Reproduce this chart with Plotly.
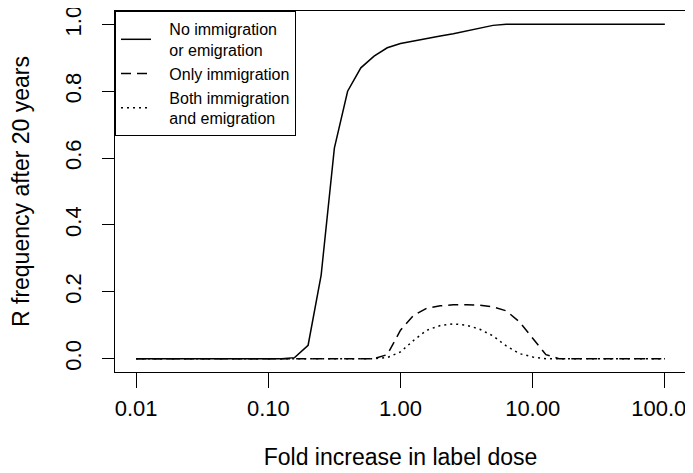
import plotly.graph_objects as go

# Fold increase in label dose (log grid)
doses = [0.01, 0.0126, 0.0158, 0.02, 0.0251, 0.0316, 0.0398, 0.0501, 0.0631, 0.0794,
         0.1, 0.126, 0.158, 0.2, 0.251, 0.316, 0.398, 0.501, 0.631, 0.794,
         1.0, 1.26, 1.58, 2.0, 2.51, 3.16, 3.98, 5.01, 6.31, 7.94,
         10.0, 12.6, 15.8, 20.0, 25.1, 31.6, 39.8, 50.1, 63.1, 79.4, 100.0]

# R frequency after 20 years
no_migration = [0, 0, 0, 0, 0, 0, 0, 0, 0, 0,
                0, 0, 0.003, 0.04, 0.25, 0.63, 0.80, 0.87, 0.905, 0.93,
                0.943, 0.951, 0.958, 0.965, 0.972, 0.98, 0.989, 0.997, 1.0, 1.0,
                1.0, 1.0, 1.0, 1.0, 1.0, 1.0, 1.0, 1.0, 1.0, 1.0, 1.0]
only_immigration = [0, 0, 0, 0, 0, 0, 0, 0, 0, 0,
                    0, 0, 0, 0, 0, 0, 0, 0, 0, 0.012,
                    0.085, 0.13, 0.151, 0.158, 0.161, 0.161, 0.16, 0.155, 0.143, 0.11,
                    0.06, 0.012, 0, 0, 0, 0, 0, 0, 0, 0, 0]
both_migration = [0, 0, 0, 0, 0, 0, 0, 0, 0, 0,
                  0, 0, 0, 0, 0, 0, 0, 0, 0, 0.003,
                  0.02, 0.055, 0.085, 0.099, 0.104, 0.1, 0.088, 0.068, 0.038, 0.015,
                  0.005, 0, 0, 0, 0, 0, 0, 0, 0, 0, 0]

x_ticks = [0.01, 0.1, 1, 10, 100]
x_ticktext = ["0.01", "0.10", "1.00", "10.00", "100.00"]
y_ticks = [0, 0.2, 0.4, 0.6, 0.8, 1.0]
y_ticktext = ["0.0", "0.2", "0.4", "0.6", "0.8", "1.0"]

FONT = "Liberation Sans, Arial, sans-serif"
PAD = "\u00a0\u00a0\u00a0"  # R legends leave a wider gap between sample and text

fig = go.Figure()
fig.add_trace(go.Scatter(x=doses, y=no_migration, mode="lines",
                         name=PAD + "No immigration<br>" + PAD + "or emigration",
                         line=dict(color="black", width=1.5)))
fig.add_trace(go.Scatter(x=doses, y=only_immigration, mode="lines",
                         name=PAD + "Only immigration",
                         line=dict(color="black", width=1.5, dash="10px,6px")))
fig.add_trace(go.Scatter(x=doses, y=both_migration, mode="lines",
                         name=PAD + "Both immigration<br>" + PAD + "and emigration",
                         line=dict(color="black", width=1.5, dash="2px,4px")))

fig.update_layout(
    width=693, height=473,
    margin=dict(l=107, r=15, t=3, b=109),
    paper_bgcolor="white", plot_bgcolor="white",
    font=dict(family=FONT, color="black", size=22),
    legend=dict(x=0, y=1, xanchor="left", yanchor="top",
                bordercolor="black", borderwidth=1, bgcolor="white",
                font=dict(size=16), valign="middle", tracegroupgap=0),
)
fig.update_xaxes(
    type="log", range=[-2.16, 2.16], automargin=False,
    tickvals=x_ticks, ticktext=x_ticktext, ticklabeloverflow="allow",
    ticks="outside", ticklen=15, tickcolor="black", ticklabelstandoff=2,
    showline=True, mirror=True, linecolor="black", linewidth=1,
    showgrid=False, zeroline=False,
    title=dict(text="Fold increase in label dose", standoff=28, font=dict(size=23)),
)
fig.update_yaxes(
    range=[-0.04, 1.04], automargin=False,
    tickvals=y_ticks, ticktext=y_ticktext, tickangle=-90, ticklabeloverflow="allow",
    ticks="outside", ticklen=12, tickcolor="black", ticklabelstandoff=12,
    showline=True, mirror=True, linecolor="black", linewidth=1,
    showgrid=False, zeroline=False,
    title=dict(text="R frequency after 20 years", standoff=32, font=dict(size=23)),
)

fig.write_html("out.html")
